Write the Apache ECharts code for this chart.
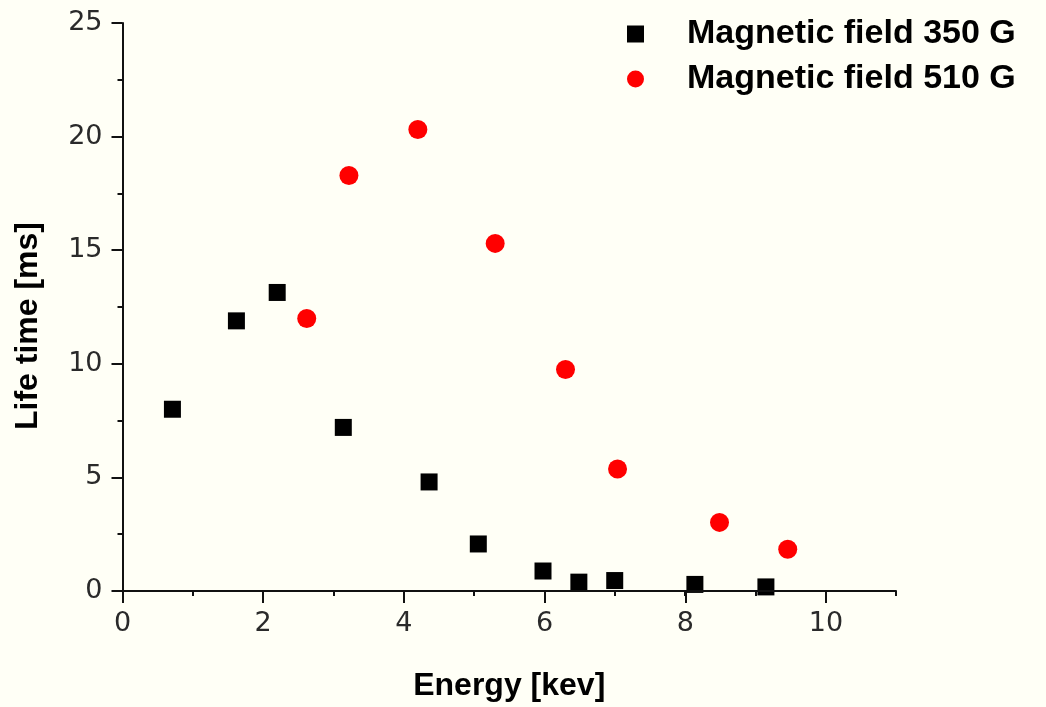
<!DOCTYPE html>
<html>
<head>
<meta charset="utf-8">
<script src="https://cdn.jsdelivr.net/npm/echarts@6/dist/echarts.min.js"></script>
<style>
html,body{margin:0;padding:0;background:#fffff6;}
#chart{width:1046px;height:707px;}
</style>
</head>
<body>
<div id="chart"></div>
<script>
const energy350 = [0.71, 1.62, 2.20, 3.14, 4.36, 5.06, 5.98, 6.49, 7.00, 8.14, 9.15];
const life350   = [8.00, 11.89, 13.14, 7.20, 4.80, 2.07, 0.88, 0.39, 0.46, 0.29, 0.18];
const energy510 = [2.62, 3.22, 4.20, 5.30, 6.30, 7.04, 8.49, 9.46];
const life510   = [11.99, 18.29, 20.31, 15.30, 9.75, 5.37, 3.02, 1.84];
const seriesNames = ['Magnetic field 350 G', 'Magnetic field 510 G'];
const xTitle = 'Energy [kev]';
const yTitle = 'Life time [ms]';

const pts350 = energy350.map((e, i) => [e, life350[i]]);
const pts510 = energy510.map((e, i) => [e, life510[i]]);

const chart = echarts.init(document.getElementById('chart'));
const axisColor = '#111';
const tickFont = { fontFamily: 'DejaVu Sans', fontSize: 27, color: '#2a2a2a', fontWeight: 'normal' };
const titleFont = { fontFamily: 'Liberation Sans', fontSize: 32, fontWeight: 'bold', color: '#000' };

chart.setOption({
  backgroundColor: '#fffff6',
  animation: false,
  grid: [
    { left: 122.5, right: 150, top: 23, bottom: 115 },
    { left: 122.5, width: 703.5, top: 23, bottom: 115 }
  ],
  legend: {
    orient: 'vertical',
    left: 622,
    top: 12,
    itemWidth: 17,
    itemHeight: 17,
    itemGap: 11,
    data: [
      { name: seriesNames[0], icon: 'rect', itemStyle: { color: '#000', opacity: 1 } },
      { name: seriesNames[1], icon: 'circle', itemStyle: { color: '#ff0000', opacity: 1 } }
    ],
    textStyle: { fontFamily: 'Liberation Sans', fontSize: 34, fontWeight: 'bold', color: '#000', padding: [0, 0, 0, 38] }
  },
  xAxis: [
    {
      gridIndex: 0, type: 'value', min: 0, max: 11, interval: 1, z: 10,
      axisLine: { show: true, lineStyle: { color: axisColor, width: 2 } },
      axisTick: { show: true, inside: false, length: 5, lineStyle: { color: axisColor, width: 2 } },
      axisLabel: { show: false },
      splitLine: { show: false },
      name: xTitle, nameLocation: 'middle', nameGap: 79,
      nameTextStyle: titleFont
    },
    {
      gridIndex: 1, type: 'value', min: 0, max: 10, interval: 2, z: 10,
      axisLine: { show: false },
      axisTick: { show: true, inside: false, length: 11, lineStyle: { color: axisColor, width: 2 } },
      axisLabel: Object.assign({ margin: 18 }, tickFont),
      splitLine: { show: false }
    }
  ],
  yAxis: [
    {
      gridIndex: 0, type: 'value', min: 0, max: 25, interval: 5, z: 10,
      axisLine: { show: true, lineStyle: { color: axisColor, width: 2 } },
      axisTick: { show: true, inside: false, length: 11, lineStyle: { color: axisColor, width: 2 } },
      minorTick: { show: true, splitNumber: 2, length: 5, lineStyle: { color: axisColor, width: 2 } },
      axisLabel: Object.assign({ margin: 20 }, tickFont),
      splitLine: { show: false },
      name: yTitle, nameLocation: 'middle', nameGap: 78,
      nameTextStyle: Object.assign({ padding: [0, 38, 0, 0] }, titleFont)
    },
    {
      gridIndex: 1, type: 'value', min: 0, max: 25, show: false
    }
  ],
  series: [
    {
      name: seriesNames[0], type: 'scatter', xAxisIndex: 0, yAxisIndex: 0,
      symbol: 'rect', symbolSize: 17, z: 2,
      itemStyle: { color: '#000', opacity: 1 },
      data: pts350
    },
    {
      name: seriesNames[1], type: 'scatter', xAxisIndex: 0, yAxisIndex: 0,
      symbol: 'circle', symbolSize: 19, z: 2,
      itemStyle: { color: '#ff0000', opacity: 1 },
      data: pts510
    }
  ]
});
</script>
</body>
</html>
